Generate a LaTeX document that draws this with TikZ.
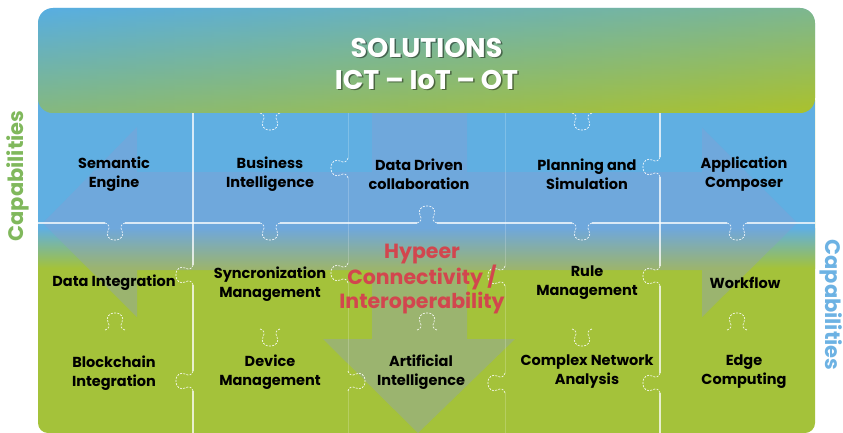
\documentclass[tikz,border=0pt]{standalone}
\usepackage{fontspec}
\usepackage{graphicx}
\setmainfont{Poppins}
\definecolor{bgblue}{HTML}{60AFE2}
\definecolor{bggreen}{HTML}{A4C23A}
\definecolor{solA}{HTML}{58AEE2}
\definecolor{solB}{HTML}{ABC22C}
\definecolor{ovl}{RGB}{140,155,210}
\definecolor{redtxt}{HTML}{D2464E}
\definecolor{capgreen}{HTML}{80B85C}
\definecolor{capblue}{HTML}{6DB2E3}
\begin{document}
\begin{tikzpicture}[x=1pt,y=-1pt,
  lbl/.style={font=\bfseries\fontsize{14.5}{19}\selectfont, align=center, text=black, inner sep=0pt},
  gridline/.style={white, line width=1.1pt, opacity=0.75},
  faintline/.style={white, line width=0.8pt, opacity=0.2},
  knob/.pic={\draw[white, dash pattern=on 2pt off 1.3pt, line width=0.7pt, opacity=0.9]
     (-10,0) .. controls (-6,1) and (-5,4) .. (-7,8) .. controls (-9,12) and (-7,17) .. (0,17)
     .. controls (7,17) and (9,12) .. (7,8) .. controls (5,4) and (6,1) .. (10,0);},
  soltxt/.style={font=\bfseries\fontsize{27}{30}\selectfont, inner sep=0pt},
  captxt/.style={font=\bfseries\fontsize{21}{24}\selectfont, inner sep=0pt}
]
\useasboundingbox (0,0) rectangle (843,433);
% panel background
\fill[bggreen, rounded corners=10pt] (38,90) rectangle (815,433);
\fill[bgblue] (38,90) rectangle (815,229);
\shade[top color=bgblue, bottom color=bggreen] (38,228) rectangle (815,268);
% translucent arrows
\fill[ovl, opacity=0.35] (43,223) -- (137,127) -- (137,172) -- (372,172) -- (372,100) -- (467,100)
  -- (467,172) -- (702,172) -- (702,128) -- (797,223) -- (702,317) -- (702,270) -- (467,270)
  -- (467,339) -- (515,339) -- (418,433) -- (323,339) -- (372,339) -- (372,270) -- (137,270)
  -- (137,317) -- cycle;
% grid lines
\draw[gridline] (38,223) -- (105,223) (125,223) -- (260,223) (280,223) -- (417,223)
  (437,223) -- (572,223) (592,223) -- (727,223) (747,223) -- (815,223);
\draw[gridline] (193,113) -- (193,265) (193,285) -- (193,371) (193,391) -- (193,433);
\draw[gridline] (660,113) -- (660,157) (660,177) -- (660,266) (660,286) -- (660,373) (660,393) -- (660,433);
\draw[faintline] (348,113) -- (348,158) (348,178) -- (348,263) (348,283) -- (348,371) (348,391) -- (348,433);
\draw[faintline] (505,113) -- (505,266) (505,286) -- (505,373) (505,393) -- (505,433);
% puzzle knobs
\pic at (270,113) {knob};
\pic at (582,113) {knob};
\pic at (115,223) {knob};
\pic at (270,223) {knob};
\pic[rotate=180] at (427,223) {knob};
\pic at (582,223) {knob};
\pic at (737,223) {knob};
\pic[rotate=180] at (115,330) {knob};
\pic at (270,329) {knob};
\pic[rotate=180] at (427,330) {knob};
\pic at (582,329) {knob};
\pic[rotate=180] at (737,330) {knob};
\pic[rotate=-90] at (193,275) {knob};
\pic[rotate=-90] at (193,381) {knob};
\pic[rotate=-90] at (348,168) {knob};
\pic[rotate=-90] at (348,273) {knob};
\pic[rotate=90] at (348,381) {knob};
\pic[rotate=-90] at (505,276) {knob};
\pic[rotate=-90] at (505,383) {knob};
\pic[rotate=-90] at (660,167) {knob};
\pic[rotate=-90] at (660,276) {knob};
\pic[rotate=-90] at (660,383) {knob};
% solutions box
\shade[rounded corners=15pt, top color=solA, bottom color=solB] (38,8) rectangle (815,113);
\shade[rounded corners=15pt, left color=solA, right color=solB, opacity=0.45] (38,8) rectangle (815,113);
\node[soltxt, text=black, opacity=0.45] at (428,49) {SOLUTIONS};
\node[soltxt, text=white] (sol) at (426.5,47.5) {SOLUTIONS};
\node[soltxt, text=black, opacity=0.45] at (428,81) {ICT – IoT – OT};
\node[soltxt, text=white] (ict) at (426.5,79.5) {ICT – IoT – OT};
% side labels
\node[captxt, text=capgreen, rotate=90] (capL) at (18,176) {Capabilities};
\node[captxt, text=capblue, rotate=-90] (capR) at (831,305) {Capabilities};
% row 1
\node[lbl] (se) at (114,174) {Semantic\\Engine};
\node[lbl] (bi) at (270,174) {Business\\Intelligence};
\node[lbl] (dd) at (419,174) {Data Driven\\collaboration};
\node[lbl] (ps) at (587,174) {Planning and\\Simulation};
\node[lbl] (ac) at (744,174) {Application\\Composer};
% row 2
\node[lbl] (di) at (114,283) {Data Integration};
\node[lbl] (sm) at (270,284) {Syncronization\\Management};
\node[lbl] (rm) at (587,283) {Rule\\Management};
\node[lbl] (wf) at (745,283) {Workflow};
% row 3
\node[lbl] (bc) at (114,373) {Blockchain\\Integration};
\node[lbl] (dm) at (270,372) {Device\\Management};
\node[lbl] (ai) at (421,372) {Artificial\\Intelligence};
\node[lbl] (cn) at (587,372) {Complex Network\\Analysis};
\node[lbl] (ec) at (744,372) {Edge\\Computing};
% centre
\node[font=\bfseries\fontsize{20.5}{24.5}\selectfont, text=redtxt, align=center, inner sep=0pt] (hc) at (422,279) {Hypeer\\Connectivity /\\Interoperability};
\end{tikzpicture}
\end{document}
